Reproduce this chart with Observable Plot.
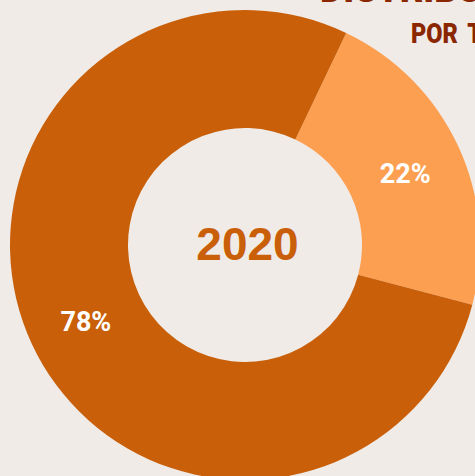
<!DOCTYPE html>
<html>
<head>
<meta charset="utf-8">
<script src="https://cdn.jsdelivr.net/npm/d3@7"></script>
<script src="https://cdn.jsdelivr.net/npm/@observablehq/plot@0.6"></script>
<style>
  html, body { margin: 0; padding: 0; background: #f0ebe7; overflow: hidden; }
  #wrap { position: relative; width: 475px; height: 476px; overflow: hidden; }
  .title { position: absolute; white-space: nowrap; font-family: Roboto, sans-serif; font-weight: 900; color: #8a2600; transform-origin: left top; line-height: 1; }
</style>
</head>
<body>
<div id="wrap">
  <div id="chart"></div>
  <div class="title" id="t1" style="left:320px; font-size:42px; transform: scaleX(0.86);">DISTRIBUCIÓN</div>
  <div class="title" id="t2" style="left:411px; font-size:28px; transform: scaleX(0.84); word-spacing: 5px;">POR TIPO</div>
</div>
<script>
const categories = ["Tipo A", "Tipo B"];
const values = [22, 78];
const labels = ["22%", "78%"];
const colors = ["#fc9f51", "#c95f09"];
const centerLabel = "2020";

const startDeg = 25.5;
const innerR = 117, outerR = 235;

const data = categories.map((c, i) => ({category: c, value: values[i], label: labels[i], color: colors[i]}));
const pie = d3.pie().sort(null).value(d => d.value)
  .startAngle(startDeg * Math.PI / 180)
  .endAngle(startDeg * Math.PI / 180 + 2 * Math.PI);
const arcs = pie(data);
const arcGen = d3.arc().innerRadius(innerR).outerRadius(outerR);
const labelPts = arcs.map(a => {
  const [cx, cy] = arcGen.centroid(a);
  return {x: cx, y: -cy, label: a.data.label};
});

const slices = (index, scales, values, dimensions) => {
  const x = scales.x, y = scales.y;
  const cx = x(0), cy = y(0);
  const k = Math.abs(x(1) - x(0));
  const g = d3.create("svg:g").attr("transform", `translate(${cx},${cy})`);
  const gen = d3.arc().innerRadius(innerR * k).outerRadius(outerR * k);
  g.selectAll("path").data(arcs).join("path")
    .attr("d", gen)
    .attr("fill", d => d.data.color);
  return g.node();
};

const chart = Plot.plot({
  width: 475,
  height: 476,
  margin: 0,
  style: {background: "transparent", overflow: "visible"},
  x: {domain: [-245, 230], axis: null},
  y: {domain: [-231, 245], axis: null},
  marks: [
    slices,
    Plot.text(labelPts, {x: "x", y: "y", dy: 3, text: "label", fill: "white", fontSize: 27, fontWeight: "bold", fontFamily: "Roboto, Liberation Sans, Arial, sans-serif"}),
    Plot.text([centerLabel], {x: 0, y: 0, dx: 2, text: d => d, fill: "#c95f09", fontSize: 46, fontWeight: "bold", fontFamily: "Liberation Sans, Arial, sans-serif"})
  ]
});
document.getElementById("chart").appendChild(chart);

function placeBaseline(el, baseline) {
  const fs = parseFloat(el.style.fontSize);
  el.style.top = (baseline - fs * 0.93) + "px";
}
placeBaseline(document.getElementById("t1"), 6);
placeBaseline(document.getElementById("t2"), 46);
</script>
</body>
</html>
